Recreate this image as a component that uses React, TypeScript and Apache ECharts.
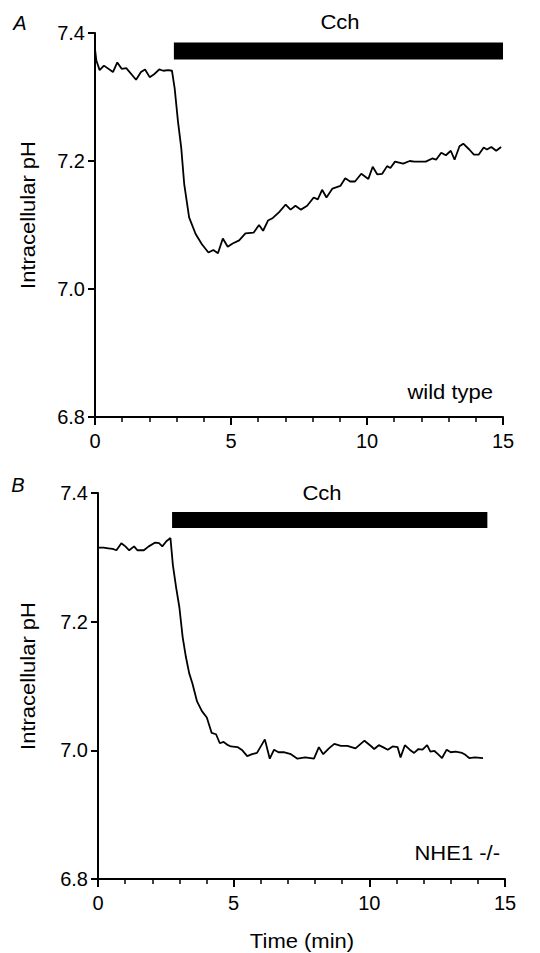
import React, { useEffect, useRef } from "react";
import * as echarts from "echarts";

// Panel A (wild type)
const timeA = [0, 0.05, 0.17, 0.33, 0.66, 0.82, 0.98, 1.15, 1.51, 1.69, 1.84, 2.01, 2.16, 2.36, 2.51, 2.69, 2.83, 2.93, 3.05, 3.17, 3.28, 3.46, 3.7, 3.93, 4.17, 4.35, 4.52, 4.7, 4.88, 5.06, 5.3, 5.53, 5.83, 6.03, 6.18, 6.36, 6.54, 6.77, 7.01, 7.19, 7.37, 7.57, 7.8, 8.04, 8.19, 8.35, 8.51, 8.73, 9.02, 9.2, 9.38, 9.56, 9.79, 10.05, 10.21, 10.38, 10.56, 10.74, 10.86, 11.03, 11.33, 11.57, 11.74, 12.16, 12.4, 12.54, 12.73, 12.9, 13.08, 13.22, 13.4, 13.54, 13.76, 13.93, 14.11, 14.29, 14.41, 14.57, 14.75, 14.93];
const phA = [7.375, 7.357, 7.342, 7.349, 7.339, 7.354, 7.344, 7.345, 7.327, 7.339, 7.343, 7.331, 7.335, 7.343, 7.341, 7.342, 7.341, 7.313, 7.262, 7.221, 7.164, 7.112, 7.086, 7.07, 7.057, 7.061, 7.056, 7.079, 7.066, 7.071, 7.076, 7.087, 7.088, 7.1, 7.091, 7.107, 7.111, 7.12, 7.132, 7.124, 7.13, 7.124, 7.13, 7.143, 7.14, 7.155, 7.143, 7.157, 7.161, 7.173, 7.168, 7.168, 7.18, 7.172, 7.191, 7.179, 7.18, 7.192, 7.189, 7.199, 7.196, 7.2, 7.199, 7.199, 7.204, 7.202, 7.213, 7.209, 7.216, 7.202, 7.223, 7.227, 7.218, 7.21, 7.21, 7.221, 7.218, 7.222, 7.216, 7.222];

// Panel B (NHE1 -/-)
const timeB = [0.02, 0.2, 0.38, 0.54, 0.68, 0.86, 1.01, 1.15, 1.33, 1.45, 1.69, 1.87, 2.11, 2.25, 2.37, 2.52, 2.67, 2.76, 2.88, 3.0, 3.12, 3.24, 3.36, 3.48, 3.65, 3.83, 4.01, 4.19, 4.35, 4.49, 4.63, 4.79, 4.9, 5.14, 5.32, 5.5, 5.68, 5.86, 6.15, 6.33, 6.49, 6.65, 6.87, 7.11, 7.35, 7.64, 7.96, 8.14, 8.3, 8.51, 8.71, 8.95, 9.19, 9.49, 9.82, 10.08, 10.18, 10.35, 10.5, 10.68, 10.86, 11.04, 11.15, 11.31, 11.49, 11.65, 11.81, 11.96, 12.13, 12.25, 12.4, 12.53, 12.68, 12.85, 13.0, 13.18, 13.42, 13.54, 13.68, 13.89, 14.19];
const phB = [7.315, 7.315, 7.314, 7.313, 7.311, 7.322, 7.317, 7.311, 7.317, 7.311, 7.311, 7.317, 7.323, 7.322, 7.317, 7.325, 7.33, 7.288, 7.253, 7.222, 7.176, 7.145, 7.12, 7.104, 7.076, 7.061, 7.051, 7.027, 7.025, 7.011, 7.013, 7.008, 7.006, 7.005, 7.0, 6.991, 6.994, 6.996, 7.017, 6.987, 7.001, 6.997, 6.997, 6.994, 6.987, 6.989, 6.987, 7.005, 6.994, 7.003, 7.01, 7.007, 7.007, 7.003, 7.015, 7.006, 7.002, 7.008, 7.005, 7.001, 7.006, 7.005, 6.989, 7.008, 7.001, 6.996, 7.002, 7.001, 7.008, 6.998, 6.999, 6.994, 6.988, 7.001, 6.997, 6.998, 6.996, 6.993, 6.988, 6.989, 6.988];

// Carbachol application bars: [start, end] (min) and pH level
const cchTimeA = [2.9, 15];
const cchLevelA = 7.372;
const cchTimeB = [2.73, 14.35];
const cchLevelB = 7.358;

const xTicks = [0, 5, 10, 15];
const yTicks = [6.8, 7.0, 7.2, 7.4];

const FONT = "Liberation Sans, Arial, sans-serif";

export default function App() {
  const ref = useRef<HTMLDivElement>(null);
  useEffect(() => {
    if (!ref.current) return;
    const chart = echarts.init(ref.current, null, { renderer: "svg" });
    const pairs = (xs: number[], ys: number[]) => xs.map((x, i) => [x, ys[i]]);

    const xAxisBase = (gridIndex: number) => ({
      type: "value" as const,
      gridIndex,
      min: xTicks[0],
      max: xTicks[xTicks.length - 1],
      interval: 5,
      axisLine: { show: true, lineStyle: { color: "#000", width: 2 } },
      axisTick: { show: true, inside: false, length: 8, lineStyle: { color: "#000", width: 2 } },
      minorTick: { show: true, splitNumber: 5, length: 5, lineStyle: { color: "#000", width: 1.5 } },
      splitLine: { show: false },
      axisLabel: { color: "#000", fontSize: 20, fontFamily: FONT, margin: 14 },
    });
    const yAxisBase = (gridIndex: number) => ({
      type: "value" as const,
      gridIndex,
      min: yTicks[0],
      max: yTicks[yTicks.length - 1],
      interval: 0.2,
      axisLine: { show: true, lineStyle: { color: "#000", width: 2 } },
      axisTick: { show: true, inside: false, length: 7, lineStyle: { color: "#000", width: 2 } },
      splitLine: { show: false },
      axisLabel: {
        color: "#000",
        fontSize: 20,
        fontFamily: FONT,
        margin: 10,
        formatter: (v: number) => v.toFixed(1),
      },
    });

    const txt = (x: number, y: number, text: string, extra: any = {}, el: any = {}) => ({
      type: "text",
      x,
      y,
      scaleX: 1.1,
      ...el,
      style: {
        text,
        fill: "#000",
        font: `20px ${FONT}`,
        align: "center",
        verticalAlign: "middle",
        ...extra,
      },
    });

    chart.setOption({
      animation: false,
      backgroundColor: "#fff",
      grid: [
        { left: 95, top: 33, width: 408, height: 384 },
        { left: 98, top: 493, width: 407, height: 386 },
      ],
      xAxis: [xAxisBase(0), xAxisBase(1)],
      yAxis: [yAxisBase(0), yAxisBase(1)],
      series: [
        {
          type: "line",
          xAxisIndex: 0,
          yAxisIndex: 0,
          data: pairs(timeA, phA),
          showSymbol: false,
          lineStyle: { color: "#000", width: 1.8 },
        },
        {
          type: "line",
          xAxisIndex: 0,
          yAxisIndex: 0,
          data: cchTimeA.map((t) => [t, cchLevelA]),
          showSymbol: false,
          lineStyle: { color: "#000", width: 17, cap: "butt" },
        },
        {
          type: "line",
          xAxisIndex: 1,
          yAxisIndex: 1,
          data: pairs(timeB, phB),
          showSymbol: false,
          lineStyle: { color: "#000", width: 1.8 },
        },
        {
          type: "line",
          xAxisIndex: 1,
          yAxisIndex: 1,
          data: cchTimeB.map((t) => [t, cchLevelB]),
          showSymbol: false,
          lineStyle: { color: "#000", width: 16, cap: "butt" },
        },
      ],
      graphic: [
        txt(20, 23, "A", { font: `italic 20px ${FONT}` }, { scaleX: 1 }),
        txt(18, 485, "B", { font: `italic 20px ${FONT}` }, { scaleX: 1 }),
        txt(340, 22, "Cch"),
        txt(322, 493, "Cch"),
        txt(493, 392, "wild type", { align: "right" }),
        txt(500, 853, "NHE1 -/-", { align: "right" }),
        txt(28, 215, "Intracellular pH", {}, { rotation: Math.PI / 2 }),
        txt(28, 676, "Intracellular pH", {}, { rotation: Math.PI / 2 }),
        txt(302, 941, "Time (min)"),
      ],
    });
    return () => chart.dispose();
  }, []);
  return <div ref={ref} style={{ width: 540, height: 953, position: "absolute", left: 0, top: 0 }} />;
}
